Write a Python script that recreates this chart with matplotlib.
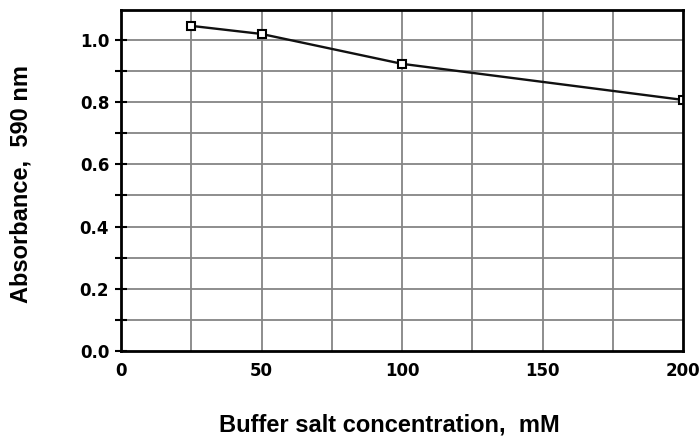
import matplotlib
matplotlib.use("Agg")
import matplotlib.pyplot as plt
import numpy as np

concentration = [25, 50, 100, 200]
absorbance = [1.045, 1.019, 0.923, 0.807]
x_ticks = [0, 50, 100, 150, 200]
y_ticks = [0.0, 0.2, 0.4, 0.6, 0.8, 1.0]

plt.rcParams['font.family'] = ['Liberation Sans', 'DejaVu Sans']
plt.rcParams['font.weight'] = 'bold'

fig = plt.figure(figsize=(6.99, 4.38), dpi=100)
ax = fig.add_axes([121/699, 87/438, (683-121)/699, (351-10)/438])

ax.set_xlim(0, 200)
ax.set_ylim(0, 1.096)

for xv in np.arange(25, 200, 25):
    ax.axvline(xv, color='#858585', lw=1.3, zorder=1)
for yv in np.arange(0.1, 1.05, 0.1):
    ax.axhline(yv, color='#858585', lw=1.3, zorder=1)

ax.plot(concentration, absorbance, color='#111111', lw=1.7, marker='s', ms=6,
        mfc='white', mec='black', mew=1.5, zorder=3)

ax.set_xticks(x_ticks)
ax.set_xticklabels([str(v) for v in x_ticks])
ax.set_yticks(y_ticks)
ax.set_yticklabels([f"{v:.1f}" for v in y_ticks])
ax.set_yticks(np.arange(0.1, 1.05, 0.2), minor=True)
ax.tick_params(axis='x', length=0, pad=8)
ax.tick_params(axis='y', which='both', length=9, width=1.5, direction='inout', pad=4)

for lab in ax.get_xticklabels() + ax.get_yticklabels():
    lab.set_fontfamily('DejaVu Sans')
    lab.set_fontweight('bold')
    lab.set_fontsize(12)

for s in ax.spines.values():
    s.set_linewidth(2)
    s.set_color('black')
    s.set_zorder(4)

fig.text(389/699, 1-425/438, 'Buffer salt concentration,  mM', ha='center', va='center',
         fontsize=17, fontweight='bold')
fig.text(21/699, 1-184/438, 'Absorbance,  590 nm', ha='center', va='center', rotation=90,
         fontsize=17, fontweight='bold')

fig.savefig('out.png', dpi=100)
